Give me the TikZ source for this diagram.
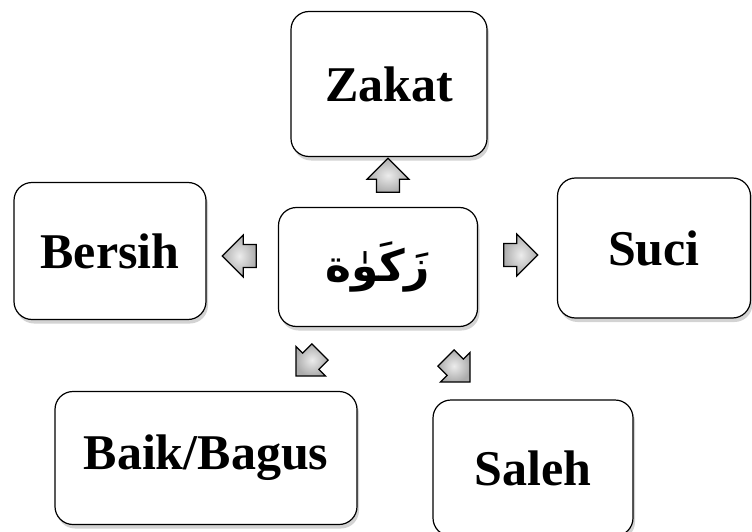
\documentclass[tikz,border=0pt]{standalone}
\usepackage{fontspec}
\setmainfont{Liberation Serif}
\newfontfamily\arabicfont[Script=Arabic]{DejaVu Sans}
\TeXXeTstate=1
\usetikzlibrary{shapes.arrows,shadows}

\tikzset{
  termbox/.style={draw,very thick,rounded corners=18pt,fill=white,
    drop shadow={opacity=0.35,shadow xshift=2pt,shadow yshift=-4pt},
    font=\bfseries\fontsize{50}{60}\selectfont},
  blockarrow/.style={single arrow,draw,very thick,inner sep=9pt,
    minimum width=42pt,minimum height=34pt,single arrow head extend=8pt,
    shading=radial,inner color=gray!15,outer color=gray!65}
}

\begin{document}
\begin{tikzpicture}[x=1pt,y=-1pt]
  \useasboundingbox (0,0) rectangle (752,532);
  % Nodes
  \node[termbox,minimum width=196pt,minimum height=145pt] (zakat) at (389,84) {Zakat};
  \node[termbox,minimum width=192pt,minimum height=137pt] (bersih) at (110,251) {Bersih};
  \node[termbox,minimum width=199pt,minimum height=119pt] (root) at (378,267)
    {\arabicfont\fontsize{44}{52}\selectfont\beginR زَكَوٰة\endR};
  \node[termbox,minimum width=193pt,minimum height=140pt] (suci) at (654,248) {Suci};
  \node[termbox,minimum width=302pt,minimum height=133pt] (baik) at (206,458) {Baik/Bagus};
  \node[termbox,minimum width=200pt,minimum height=136pt] (saleh) at (533,468) {Saleh};
  % Arrows
  \node[blockarrow,rotate=90] (up) at (388,181) {};
  \node[blockarrow,rotate=180] (left) at (245,256) {};
  \node[blockarrow] (right) at (515,255) {};
  \node[blockarrow,rotate=225] (downleft) at (312,360) {};
  \node[blockarrow,rotate=315] (downright) at (454,366) {};
\end{tikzpicture}
\end{document}
